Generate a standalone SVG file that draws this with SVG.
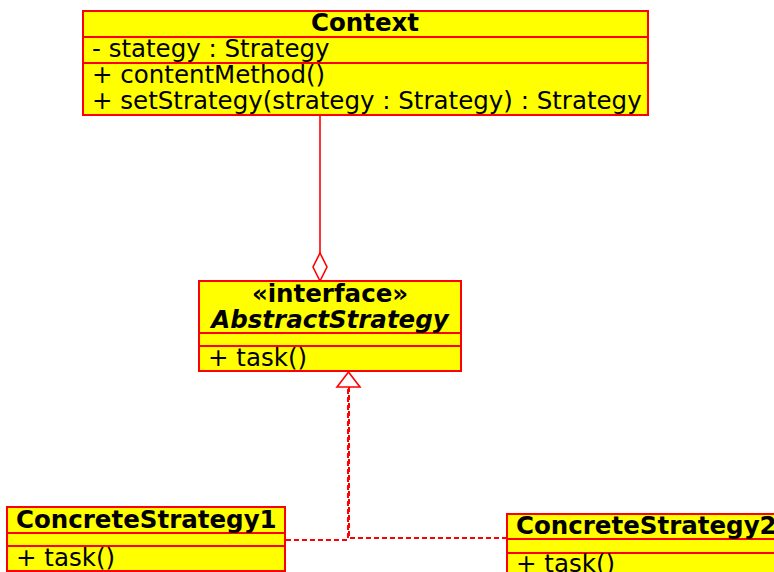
<svg xmlns="http://www.w3.org/2000/svg" width="774" height="572" viewBox="0 0 774 572">
  <defs>
    <style>
      .box { fill: #ffff00; stroke: #ff0000; stroke-width: 2; }
      .sep { stroke: #ff0000; stroke-width: 2; }
      .t { font-family: "DejaVu Sans", "Liberation Sans", sans-serif; font-size: 24.5px; fill: #000; }
      .b { font-weight: bold; }
      .c { text-anchor: middle; }
      .i { font-style: italic; }
      .assoc { fill: none; stroke: #ff0000; stroke-width: 1.6; }
      .real { fill: none; stroke: #ff0000; stroke-width: 2; stroke-dasharray: 5 3; }
    </style>
  </defs>
  <rect width="774" height="572" fill="#ffffff"/>

  <g id="connectors">
    <!-- aggregation: Context -> AbstractStrategy -->
    <path class="assoc" d="M320 115 V253"/>
    <path class="assoc" fill="#fff" d="M320 253 L327 267 L320 281 L313 267 Z"/>
    <!-- realizations -->
    <path class="real" d="M286 540 H348 V387"/>
    <path class="real" d="M507 538 H349 V387"/>
    <path class="assoc" fill="#fff" stroke-width="2" d="M348.5 372 L360 387 L337 387 Z"/>
  </g>

  <g id="Context">
    <rect class="box" x="83" y="11" width="565" height="104"/>
    <line class="sep" x1="83" y1="37" x2="648" y2="37"/>
    <line class="sep" x1="83" y1="63" x2="648" y2="63"/>
    <text class="t b c" x="365" y="31">Context</text>
    <text class="t" x="92" y="57">- stategy : Strategy</text>
    <text class="t" x="92" y="83">+ contentMethod()</text>
    <text class="t" x="92" y="109">+ setStrategy(strategy : Strategy) : Strategy</text>
  </g>

  <g id="AbstractStrategy">
    <rect class="box" x="199" y="281" width="262" height="90"/>
    <line class="sep" x1="199" y1="333" x2="461" y2="333"/>
    <line class="sep" x1="199" y1="346" x2="461" y2="346"/>
    <text class="t b c" x="330" y="302">«interface»</text>
    <text class="t b i c" x="330" y="328">AbstractStrategy</text>
    <text class="t" x="208" y="366">+ task()</text>
  </g>

  <g id="ConcreteStrategy1">
    <rect class="box" x="7" y="507" width="278" height="64"/>
    <line class="sep" x1="7" y1="533" x2="285" y2="533"/>
    <line class="sep" x1="7" y1="546" x2="285" y2="546"/>
    <text class="t b" x="16" y="528">ConcreteStrategy1</text>
    <text class="t" x="16" y="566">+ task()</text>
  </g>

  <g id="ConcreteStrategy2">
    <rect class="box" x="507" y="514" width="280" height="64"/>
    <line class="sep" x1="507" y1="539" x2="787" y2="539"/>
    <line class="sep" x1="507" y1="553" x2="787" y2="553"/>
    <text class="t b" x="516" y="534">ConcreteStrategy2</text>
    <text class="t" x="516" y="572">+ task()</text>
  </g>
</svg>
